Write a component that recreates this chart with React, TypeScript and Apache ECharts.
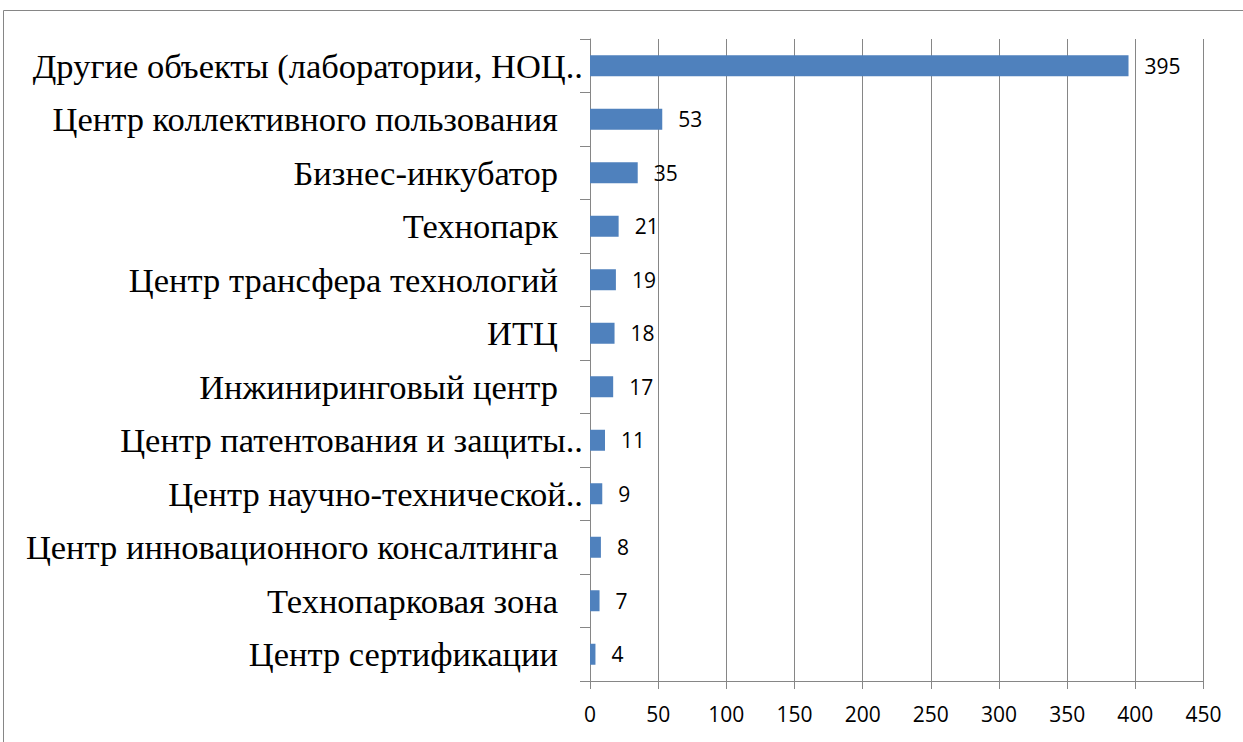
import React, { useEffect, useRef } from "react";
import * as echarts from "echarts";

const categories = [
  "Другие объекты (лаборатории, НОЦ..",
  "Центр коллективного пользования",
  "Бизнес-инкубатор",
  "Технопарк",
  "Центр трансфера технологий",
  "ИТЦ",
  "Инжиниринговый центр",
  "Центр патентования и защиты..",
  "Центр научно-технической..",
  "Центр инновационного консалтинга",
  "Технопарковая зона",
  "Центр сертификации",
];
const values = [395, 53, 35, 21, 19, 18, 17, 11, 9, 8, 7, 4];
const xMin = 0;
const xMax = 450;
const xStep = 50;

export default function App() {
  const ref = useRef<HTMLDivElement>(null);
  useEffect(() => {
    if (!ref.current) return;
    const chart = echarts.init(ref.current, null, { renderer: "svg" });
    chart.setOption({
      animation: false,
      backgroundColor: "#ffffff",
      graphic: [
        {
          type: "rect",
          shape: { x: 3.5, y: 10.5, width: 1260, height: 760 },
          style: { fill: "none", stroke: "#868686", lineWidth: 1 },
          silent: true,
        },
      ],
      grid: { left: 590, right: 39.5, top: 39, bottom: 61, containLabel: false },
      xAxis: {
        type: "value",
        min: xMin,
        max: xMax,
        interval: xStep,
        axisLine: { show: true, lineStyle: { color: "#868686", width: 1 } },
        axisTick: { show: true, length: 8, lineStyle: { color: "#868686" } },
        splitLine: { show: true, lineStyle: { color: "#868686", width: 1 } },
        axisLabel: {
          color: "#000",
          fontFamily: "Open Sans, sans-serif",
          fontSize: 21,
          margin: 22,
        },
      },
      yAxis: {
        type: "category",
        inverse: true,
        data: categories,
        axisLine: { show: true, lineStyle: { color: "#868686", width: 1 } },
        axisTick: { show: true, length: 10, inside: false, lineStyle: { color: "#868686" } },
        axisLabel: {
          margin: 7,
          formatter: (v: string) =>
            v.endsWith("..") ? `{t|${v}}` : `{t|${v}}{p| }`,
          rich: {
            t: {
              color: "#000",
              fontFamily: "Liberation Serif, Times New Roman, serif",
              fontSize: 34.5,
            },
            p: { width: 25, fontSize: 34.5 },
          },
        },
      },
      series: [
        {
          type: "bar",
          data: values,
          barWidth: 21,
          itemStyle: { color: "#4F81BD" },
          label: {
            show: true,
            position: "right",
            distance: 16,
            color: "#000",
            fontFamily: "Open Sans, sans-serif",
            fontSize: 21,
          },
        },
      ],
    });
    return () => chart.dispose();
  }, []);
  return (
    <div
      ref={ref}
      style={{ position: "fixed", left: 0, top: 0, width: 1243, height: 742 }}
    />
  );
}
